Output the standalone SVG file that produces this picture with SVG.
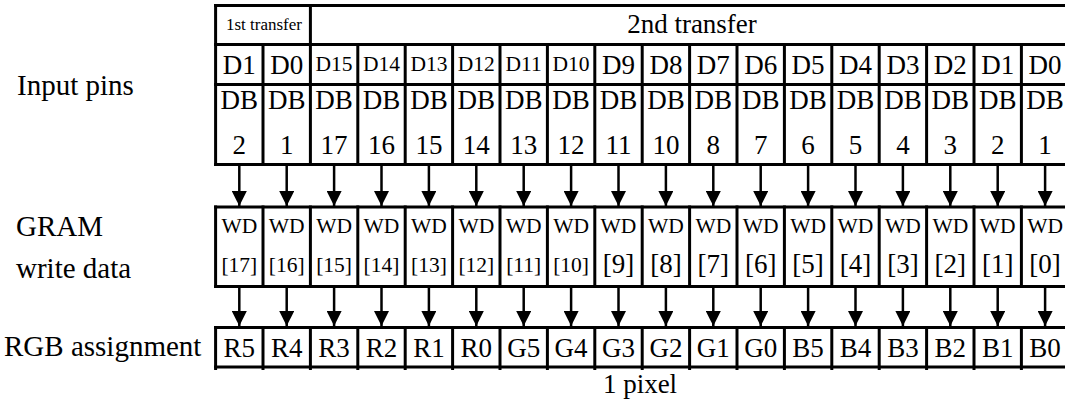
<svg xmlns="http://www.w3.org/2000/svg" width="1065" height="405" viewBox="0 0 1065 405">
  <style>
    text { font-family: "Liberation Serif", "Times New Roman", serif; fill: #000; text-anchor: middle; }
    .lbl { font-size: 29px; text-anchor: start; }
    .big { font-size: 27px; }
    .sm { font-size: 21.5px; }
    .tiny { font-size: 17px; }
    .grid line { stroke: #000; stroke-width: 3; }
    .conn line { stroke: #000; stroke-width: 2.5; }
  </style>
  <defs>
    <!-- filled triangular head, drawn pointing along +x and turned with the line -->
    <marker id="head" markerUnits="userSpaceOnUse" markerWidth="15" markerHeight="15" refX="15" refY="7.5" orient="auto" viewBox="0 0 15 15">
      <path d="M0,0 L15,7.5 L0,15 Z" fill="#000"/>
    </marker>
  </defs>

  <rect width="1065" height="405" fill="#fff"/>

  <!-- row labels -->
  <g id="row-labels">
    <text class="lbl" x="17" y="95">Input pins</text>
    <text class="lbl" x="16" y="236">GRAM</text>
    <text class="lbl" x="16" y="278">write data</text>
    <text class="lbl" x="4" y="356">RGB assignment</text>
  </g>

  <!-- input pin table -->
  <g id="input-pins">
    <g class="grid">
      <line x1="214.1" y1="5.5" x2="1070" y2="5.5"/>
      <line x1="214.1" y1="44.5" x2="1070" y2="44.5"/>
      <line x1="214.1" y1="84.5" x2="1070" y2="84.5"/>
      <line x1="214.1" y1="164.5" x2="1070" y2="164.5"/>
      <line x1="215.6" y1="4" x2="215.6" y2="166"/>
      <line x1="310.4" y1="4" x2="310.4" y2="166"/>
      <line x1="1068.8" y1="4" x2="1068.8" y2="166"/>
      <line x1="263.0" y1="44.5" x2="263.0" y2="166"/>
      <line x1="357.8" y1="44.5" x2="357.8" y2="166"/>
      <line x1="405.2" y1="44.5" x2="405.2" y2="166"/>
      <line x1="452.6" y1="44.5" x2="452.6" y2="166"/>
      <line x1="500.0" y1="44.5" x2="500.0" y2="166"/>
      <line x1="547.4" y1="44.5" x2="547.4" y2="166"/>
      <line x1="594.8" y1="44.5" x2="594.8" y2="166"/>
      <line x1="642.2" y1="44.5" x2="642.2" y2="166"/>
      <line x1="689.6" y1="44.5" x2="689.6" y2="166"/>
      <line x1="737.0" y1="44.5" x2="737.0" y2="166"/>
      <line x1="784.4" y1="44.5" x2="784.4" y2="166"/>
      <line x1="831.8" y1="44.5" x2="831.8" y2="166"/>
      <line x1="879.2" y1="44.5" x2="879.2" y2="166"/>
      <line x1="926.6" y1="44.5" x2="926.6" y2="166"/>
      <line x1="974.0" y1="44.5" x2="974.0" y2="166"/>
      <line x1="1021.4" y1="44.5" x2="1021.4" y2="166"/>
    </g>
    <text class="tiny" x="264" y="30">1st transfer</text>
    <text class="big" x="692" y="33">2nd transfer</text>
    <g id="pin-names">
      <text class="big" x="239.3" y="74">D1</text>
      <text class="big" x="286.7" y="74">D0</text>
      <text class="sm" x="334.1" y="71">D15</text>
      <text class="sm" x="381.5" y="71">D14</text>
      <text class="sm" x="428.9" y="71">D13</text>
      <text class="sm" x="476.3" y="71">D12</text>
      <text class="sm" x="523.7" y="71">D11</text>
      <text class="sm" x="571.1" y="71">D10</text>
      <text class="big" x="618.5" y="74">D9</text>
      <text class="big" x="665.9" y="74">D8</text>
      <text class="big" x="713.3" y="74">D7</text>
      <text class="big" x="760.7" y="74">D6</text>
      <text class="big" x="808.1" y="74">D5</text>
      <text class="big" x="855.5" y="74">D4</text>
      <text class="big" x="902.9" y="74">D3</text>
      <text class="big" x="950.3" y="74">D2</text>
      <text class="big" x="997.7" y="74">D1</text>
      <text class="big" x="1045.1" y="74">D0</text>
    </g>
    <g id="pin-db" class="big">
      <text x="239.3" y="109">DB</text><text x="239.3" y="154">2</text>
      <text x="286.7" y="109">DB</text><text x="286.7" y="154">1</text>
      <text x="334.1" y="109">DB</text><text x="334.1" y="154">17</text>
      <text x="381.5" y="109">DB</text><text x="381.5" y="154">16</text>
      <text x="428.9" y="109">DB</text><text x="428.9" y="154">15</text>
      <text x="476.3" y="109">DB</text><text x="476.3" y="154">14</text>
      <text x="523.7" y="109">DB</text><text x="523.7" y="154">13</text>
      <text x="571.1" y="109">DB</text><text x="571.1" y="154">12</text>
      <text x="618.5" y="109">DB</text><text x="618.5" y="154">11</text>
      <text x="665.9" y="109">DB</text><text x="665.9" y="154">10</text>
      <text x="713.3" y="109">DB</text><text x="713.3" y="154">8</text>
      <text x="760.7" y="109">DB</text><text x="760.7" y="154">7</text>
      <text x="808.1" y="109">DB</text><text x="808.1" y="154">6</text>
      <text x="855.5" y="109">DB</text><text x="855.5" y="154">5</text>
      <text x="902.9" y="109">DB</text><text x="902.9" y="154">4</text>
      <text x="950.3" y="109">DB</text><text x="950.3" y="154">3</text>
      <text x="997.7" y="109">DB</text><text x="997.7" y="154">2</text>
      <text x="1045.1" y="109">DB</text><text x="1045.1" y="154">1</text>
    </g>
  </g>

  <!-- GRAM write data table -->
  <g id="gram-write-data">
    <g class="grid">
      <line x1="214.1" y1="207" x2="1070" y2="207"/>
      <line x1="214.1" y1="286.5" x2="1070" y2="286.5"/>
      <line x1="215.6" y1="205.5" x2="215.6" y2="288"/>
      <line x1="263.0" y1="205.5" x2="263.0" y2="288"/>
      <line x1="310.4" y1="205.5" x2="310.4" y2="288"/>
      <line x1="357.8" y1="205.5" x2="357.8" y2="288"/>
      <line x1="405.2" y1="205.5" x2="405.2" y2="288"/>
      <line x1="452.6" y1="205.5" x2="452.6" y2="288"/>
      <line x1="500.0" y1="205.5" x2="500.0" y2="288"/>
      <line x1="547.4" y1="205.5" x2="547.4" y2="288"/>
      <line x1="594.8" y1="205.5" x2="594.8" y2="288"/>
      <line x1="642.2" y1="205.5" x2="642.2" y2="288"/>
      <line x1="689.6" y1="205.5" x2="689.6" y2="288"/>
      <line x1="737.0" y1="205.5" x2="737.0" y2="288"/>
      <line x1="784.4" y1="205.5" x2="784.4" y2="288"/>
      <line x1="831.8" y1="205.5" x2="831.8" y2="288"/>
      <line x1="879.2" y1="205.5" x2="879.2" y2="288"/>
      <line x1="926.6" y1="205.5" x2="926.6" y2="288"/>
      <line x1="974.0" y1="205.5" x2="974.0" y2="288"/>
      <line x1="1021.4" y1="205.5" x2="1021.4" y2="288"/>
      <line x1="1068.8" y1="205.5" x2="1068.8" y2="288"/>
    </g>
    <g class="sm">
      <text x="239.3" y="233">WD</text><text x="239.3" y="272">[17]</text>
      <text x="286.7" y="233">WD</text><text x="286.7" y="272">[16]</text>
      <text x="334.1" y="233">WD</text><text x="334.1" y="272">[15]</text>
      <text x="381.5" y="233">WD</text><text x="381.5" y="272">[14]</text>
      <text x="428.9" y="233">WD</text><text x="428.9" y="272">[13]</text>
      <text x="476.3" y="233">WD</text><text x="476.3" y="272">[12]</text>
      <text x="523.7" y="233">WD</text><text x="523.7" y="272">[11]</text>
      <text x="571.1" y="233">WD</text><text x="571.1" y="272">[10]</text>
      <text x="618.5" y="233">WD</text>
      <text x="665.9" y="233">WD</text>
      <text x="713.3" y="233">WD</text>
      <text x="760.7" y="233">WD</text>
      <text x="808.1" y="233">WD</text>
      <text x="855.5" y="233">WD</text>
      <text x="902.9" y="233">WD</text>
      <text x="950.3" y="233">WD</text>
      <text x="997.7" y="233">WD</text>
      <text x="1045.1" y="233">WD</text>
    </g>
    <g class="big">
      <text x="618.5" y="273">[9]</text>
      <text x="665.9" y="273">[8]</text>
      <text x="713.3" y="273">[7]</text>
      <text x="760.7" y="273">[6]</text>
      <text x="808.1" y="273">[5]</text>
      <text x="855.5" y="273">[4]</text>
      <text x="902.9" y="273">[3]</text>
      <text x="950.3" y="273">[2]</text>
      <text x="997.7" y="273">[1]</text>
      <text x="1045.1" y="273">[0]</text>
    </g>
  </g>

  <!-- RGB assignment table -->
  <g id="rgb-assignment">
    <g class="grid">
      <line x1="214.1" y1="327.5" x2="1070" y2="327.5"/>
      <line x1="214.1" y1="367" x2="1070" y2="367"/>
      <line x1="215.6" y1="326" x2="215.6" y2="370"/>
      <line x1="263.0" y1="326" x2="263.0" y2="370"/>
      <line x1="310.4" y1="326" x2="310.4" y2="370"/>
      <line x1="357.8" y1="326" x2="357.8" y2="370"/>
      <line x1="405.2" y1="326" x2="405.2" y2="370"/>
      <line x1="452.6" y1="326" x2="452.6" y2="370"/>
      <line x1="500.0" y1="326" x2="500.0" y2="370"/>
      <line x1="547.4" y1="326" x2="547.4" y2="370"/>
      <line x1="594.8" y1="326" x2="594.8" y2="370"/>
      <line x1="642.2" y1="326" x2="642.2" y2="370"/>
      <line x1="689.6" y1="326" x2="689.6" y2="370"/>
      <line x1="737.0" y1="326" x2="737.0" y2="370"/>
      <line x1="784.4" y1="326" x2="784.4" y2="370"/>
      <line x1="831.8" y1="326" x2="831.8" y2="370"/>
      <line x1="879.2" y1="326" x2="879.2" y2="370"/>
      <line x1="926.6" y1="326" x2="926.6" y2="370"/>
      <line x1="974.0" y1="326" x2="974.0" y2="370"/>
      <line x1="1021.4" y1="326" x2="1021.4" y2="370"/>
      <line x1="1068.8" y1="326" x2="1068.8" y2="370"/>
    </g>
    <g class="big">
      <text x="239.3" y="356.5">R5</text>
      <text x="286.7" y="356.5">R4</text>
      <text x="334.1" y="356.5">R3</text>
      <text x="381.5" y="356.5">R2</text>
      <text x="428.9" y="356.5">R1</text>
      <text x="476.3" y="356.5">R0</text>
      <text x="523.7" y="356.5">G5</text>
      <text x="571.1" y="356.5">G4</text>
      <text x="618.5" y="356.5">G3</text>
      <text x="665.9" y="356.5">G2</text>
      <text x="713.3" y="356.5">G1</text>
      <text x="760.7" y="356.5">G0</text>
      <text x="808.1" y="356.5">B5</text>
      <text x="855.5" y="356.5">B4</text>
      <text x="902.9" y="356.5">B3</text>
      <text x="950.3" y="356.5">B2</text>
      <text x="997.7" y="356.5">B1</text>
      <text x="1045.1" y="356.5">B0</text>
    </g>
    <text class="big" x="640" y="393">1 pixel</text>
  </g>

  <!-- arrows: pins to GRAM data, GRAM data to RGB -->
  <g id="connectors" class="conn" marker-end="url(#head)">
    <line x1="239.3" y1="166" x2="239.3" y2="206"/>
    <line x1="286.7" y1="166" x2="286.7" y2="206"/>
    <line x1="334.1" y1="166" x2="334.1" y2="206"/>
    <line x1="381.5" y1="166" x2="381.5" y2="206"/>
    <line x1="428.9" y1="166" x2="428.9" y2="206"/>
    <line x1="476.3" y1="166" x2="476.3" y2="206"/>
    <line x1="523.7" y1="166" x2="523.7" y2="206"/>
    <line x1="571.1" y1="166" x2="571.1" y2="206"/>
    <line x1="618.5" y1="166" x2="618.5" y2="206"/>
    <line x1="665.9" y1="166" x2="665.9" y2="206"/>
    <line x1="713.3" y1="166" x2="713.3" y2="206"/>
    <line x1="760.7" y1="166" x2="760.7" y2="206"/>
    <line x1="808.1" y1="166" x2="808.1" y2="206"/>
    <line x1="855.5" y1="166" x2="855.5" y2="206"/>
    <line x1="902.9" y1="166" x2="902.9" y2="206"/>
    <line x1="950.3" y1="166" x2="950.3" y2="206"/>
    <line x1="997.7" y1="166" x2="997.7" y2="206"/>
    <line x1="1045.1" y1="166" x2="1045.1" y2="206"/>
    <line x1="239.3" y1="288" x2="239.3" y2="326"/>
    <line x1="286.7" y1="288" x2="286.7" y2="326"/>
    <line x1="334.1" y1="288" x2="334.1" y2="326"/>
    <line x1="381.5" y1="288" x2="381.5" y2="326"/>
    <line x1="428.9" y1="288" x2="428.9" y2="326"/>
    <line x1="476.3" y1="288" x2="476.3" y2="326"/>
    <line x1="523.7" y1="288" x2="523.7" y2="326"/>
    <line x1="571.1" y1="288" x2="571.1" y2="326"/>
    <line x1="618.5" y1="288" x2="618.5" y2="326"/>
    <line x1="665.9" y1="288" x2="665.9" y2="326"/>
    <line x1="713.3" y1="288" x2="713.3" y2="326"/>
    <line x1="760.7" y1="288" x2="760.7" y2="326"/>
    <line x1="808.1" y1="288" x2="808.1" y2="326"/>
    <line x1="855.5" y1="288" x2="855.5" y2="326"/>
    <line x1="902.9" y1="288" x2="902.9" y2="326"/>
    <line x1="950.3" y1="288" x2="950.3" y2="326"/>
    <line x1="997.7" y1="288" x2="997.7" y2="326"/>
    <line x1="1045.1" y1="288" x2="1045.1" y2="326"/>
  </g>
</svg>
